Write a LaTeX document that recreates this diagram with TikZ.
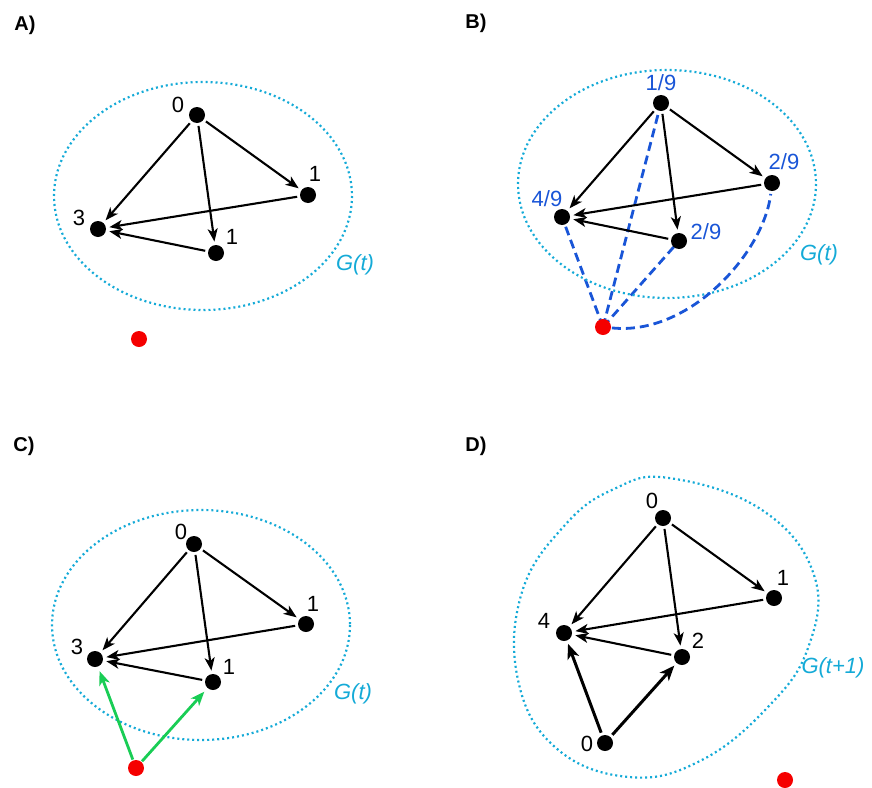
\documentclass[tikz,border=0pt]{standalone}
\usepackage{fontspec}
\setmainfont{Liberation Sans}
\usetikzlibrary{arrows.meta,backgrounds}
\definecolor{cyanring}{RGB}{20,170,215}
\definecolor{blueval}{RGB}{25,85,215}
\definecolor{greenarr}{RGB}{25,205,85}
\definecolor{reddot}{RGB}{245,0,0}
\tikzset{
  dot/.style={circle,fill=black,minimum size=16pt,inner sep=0pt,outer sep=3pt},
  rdot/.style={circle,fill=reddot,minimum size=16pt,inner sep=0pt,outer sep=1pt},
  num/.style={font=\fontsize{22}{22}\selectfont,inner sep=0pt},
  bnum/.style={num,text=blueval},
  panel/.style={font=\fontsize{20}{20}\selectfont\bfseries,inner sep=0pt},
  glabel/.style={font=\fontsize{22}{22}\selectfont\itshape,text=cyanring,inner sep=0pt},
  ring/.style={draw=cyanring,line width=2.2pt,dash pattern=on 2pt off 3pt},
  edge/.style={line width=2.1pt,-{Stealth[length=13pt,width=10pt,inset=3.5pt]},shorten >=0.5pt},
  tedge/.style={line width=3pt,-{Stealth[length=15pt,width=12pt,inset=4pt]},shorten >=0.5pt},
  gedge/.style={draw=greenarr,line width=2.8pt,-{Stealth[length=14pt,width=11pt,inset=4pt]},shorten >=2pt},
  bdash/.style={draw=blueval,line width=2.8pt,dash pattern=on 9pt off 5pt}
}
\begin{document}
\begin{tikzpicture}[x=1pt,y=-1pt]
\useasboundingbox (0,0) rectangle (872,787);
% ---------------- Panel A
\node[panel] (pA) at (25,25) {A)};
\draw[ring] (203,196) ellipse [x radius=149, y radius=114];
\node[glabel] (gA) at (355,265) {G(t)};
\node[dot] (a0) at (197,115) {};
\node[dot] (a1) at (308,195) {};
\node[dot] (a3) at (98,229) {};
\node[dot] (a1b) at (216,253) {};
\node[rdot] (ar) at (139,339) {};
\node[num] (la0) at (178,105) {0};
\node[num] (la1) at (315,174) {1};
\node[num] (la3) at (79,218) {3};
\node[num] (la1b) at (232,237) {1};
\draw[edge] (a0) -- (a3);
\draw[edge] (a0) -- (a1b);
\draw[edge] (a0) -- (a1);
\draw[edge] (a1) -- (a3);
\draw[edge] (a1b) -- (a3);
% ---------------- Panel B
\node[panel] (pB) at (476,23) {B)};
\draw[ring] (667,184) ellipse [x radius=149, y radius=114];
\node[glabel] (gB) at (819,255) {G(t)};
\node[dot] (b0) at (661,103) {};
\node[dot] (b1) at (772,183) {};
\node[dot] (b3) at (562,217) {};
\node[dot] (b1b) at (679,241) {};
\node[rdot] (br) at (603,327) {};
\node[bnum] (lb0) at (661,83) {1/9};
\node[bnum] (lb1) at (784,162) {2/9};
\node[bnum] (lb3) at (547,199) {4/9};
\node[bnum] (lb1b) at (706,232) {2/9};
\begin{pgfonlayer}{background}
\draw[bdash] (br.center) -- (b3.center);
\draw[bdash] (br.center) -- (b0.center);
\draw[bdash] (br.center) -- (b1b.center);
\end{pgfonlayer}
\draw[bdash] (br) .. controls (690,336) and (764,252) .. (b1);
\draw[edge] (b0) -- (b3);
\draw[edge] (b0) -- (b1b);
\draw[edge] (b0) -- (b1);
\draw[edge] (b1) -- (b3);
\draw[edge] (b1b) -- (b3);
% ---------------- Panel C
\node[panel] (pC) at (24,446) {C)};
\draw[ring] (201,625) ellipse [x radius=149, y radius=115];
\node[glabel] (gC) at (353,694) {G(t)};
\node[dot] (c0) at (194,544) {};
\node[dot] (c1) at (306,624) {};
\node[dot] (c3) at (95,659) {};
\node[dot] (c1b) at (213,682) {};
\node[rdot] (cr) at (136,768) {};
\node[num] (lc0) at (181,532) {0};
\node[num] (lc1) at (313,604) {1};
\node[num] (lc3) at (77,647) {3};
\node[num] (lc1b) at (229,667) {1};
\draw[edge] (c0) -- (c3);
\draw[edge] (c0) -- (c1b);
\draw[edge] (c0) -- (c1);
\draw[edge] (c1) -- (c3);
\draw[edge] (c1b) -- (c3);
\draw[gedge] (cr) -- (c3);
\draw[gedge] (cr) -- (c1b);
% ---------------- Panel D
\node[panel] (pD) at (476,446) {D)};
\draw[ring] plot[smooth cycle,tension=0.7] coordinates {
  (669,478) (762,510) (814,575) (808,648) (767,708) (700,761)
  (629,777) (556,748) (518,680) (522,592) (565,525) (614,489)};
\node[glabel] (gD) at (833,668) {G(t+1)};
\node[dot] (d0) at (663,518) {};
\node[dot] (d1) at (774,598) {};
\node[dot] (d4) at (564,633) {};
\node[dot] (d2) at (682,657) {};
\node[dot] (d0b) at (605,743) {};
\node[rdot] (dr) at (785,780) {};
\node[num] (ld0) at (652,501) {0};
\node[num] (ld1) at (783,578) {1};
\node[num] (ld4) at (544,621) {4};
\node[num] (ld2) at (698,641) {2};
\node[num] (ld0b) at (587,744) {0};
\draw[edge] (d0) -- (d4);
\draw[edge] (d0) -- (d2);
\draw[edge] (d0) -- (d1);
\draw[edge] (d1) -- (d4);
\draw[edge] (d2) -- (d4);
\draw[tedge] (d0b) -- (d4);
\draw[tedge] (d0b) -- (d2);
\end{tikzpicture}
\end{document}
